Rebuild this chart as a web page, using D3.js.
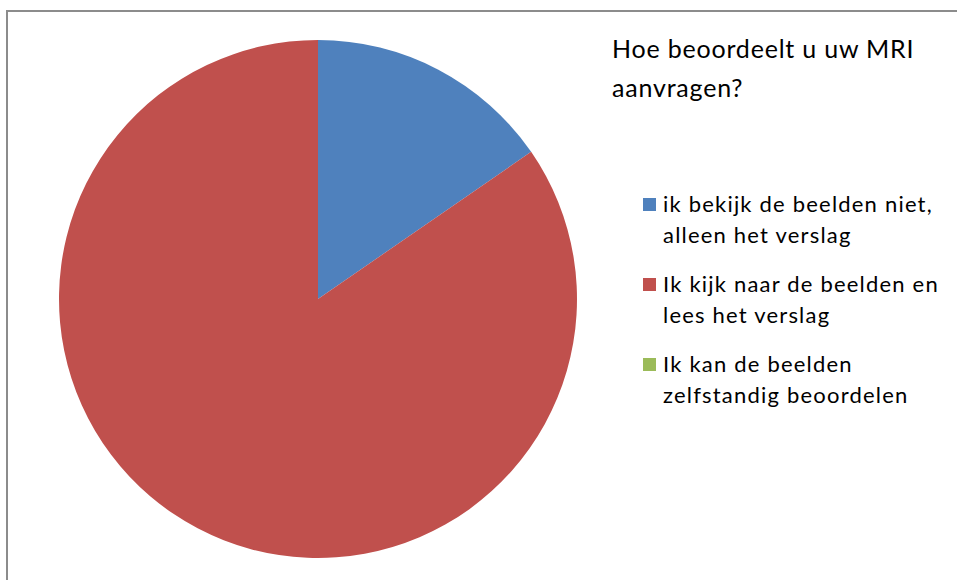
<!DOCTYPE html>
<html><head><meta charset="utf-8">
<script src="https://cdn.jsdelivr.net/npm/d3@7"></script>
<style>body{margin:0;background:#fff}svg{display:block}</style>
</head><body>
<svg id="c" width="957" height="580"></svg>
<script>
const categories = ["ik bekijk de beelden niet, alleen het verslag", "Ik kijk naar de beelden en lees het verslag", "Ik kan de beelden zelfstandig beoordelen"];
const legendLines = [["ik bekijk de beelden niet,", "alleen het verslag"], ["Ik kijk naar de beelden en", "lees het verslag"], ["Ik kan de beelden", "zelfstandig beoordelen"]];
const values = [2, 11, 0];
const colors = ["#4F81BD", "#C0504D", "#9BBB59"];
const titleLines = ["Hoe beoordeelt u uw MRI", "aanvragen?"];

const svg = d3.select("#c");
const font = "Lato, 'Open Sans', sans-serif";

// frame
svg.append("rect").attr("x", 7).attr("y", 11).attr("width", 1000).attr("height", 1000)
  .attr("fill", "none").attr("stroke", "#8c8c8c").attr("stroke-width", 2);

const cx = 318, cy = 299, r = 259;
const pie = d3.pie().sort(null).value(d => d)(values);
const arc = d3.arc().innerRadius(0).outerRadius(r);
svg.append("g").attr("transform", `translate(${cx},${cy})`)
  .selectAll("path").data(pie).join("path")
  .attr("d", arc).attr("fill", (d, i) => colors[i]);

const title = svg.append("text").attr("font-family", font).attr("font-size", 25)
  .attr("letter-spacing", 0.8).attr("fill", "#000");
titleLines.forEach((t, i) => title.append("tspan").attr("x", 612).attr("y", 58 + i * 39).text(t));

const lg = svg.append("g");
const itemY = [212, 292, 372];
categories.forEach((c, i) => {
  lg.append("rect").attr("x", 643).attr("y", itemY[i] - 14).attr("width", 13).attr("height", 13).attr("fill", colors[i]);
  const t = lg.append("text").attr("font-family", font).attr("font-size", 22)
    .attr("letter-spacing", 1.2).attr("fill", "#000");
  legendLines[i].forEach((l, j) => t.append("tspan").attr("x", 663).attr("y", itemY[i] + j * 31).text(l));
});
</script>
</body></html>
